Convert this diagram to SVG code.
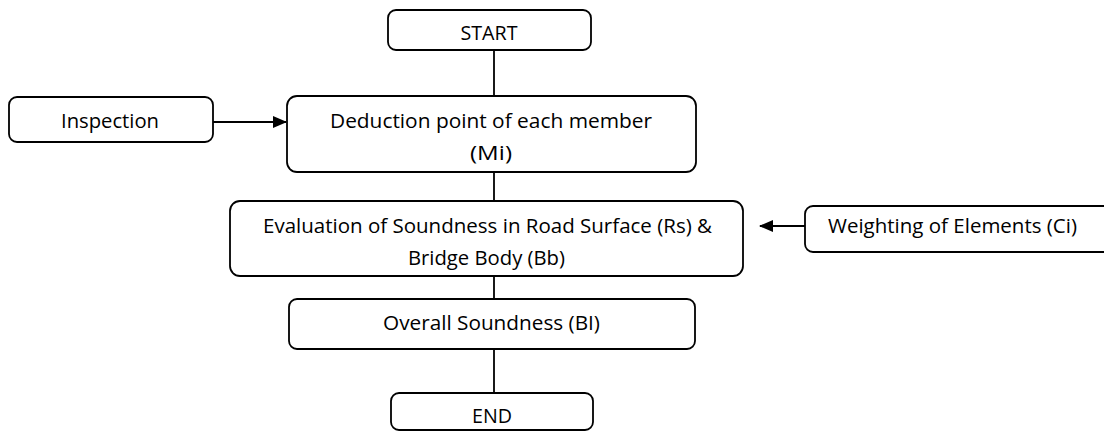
<svg xmlns="http://www.w3.org/2000/svg" width="1104" height="432" viewBox="0 0 1104 432">
  <style>
    .box { fill: #ffffff; stroke: #000000; stroke-width: 1.8; }
    .lbl { font-family: "Open Sans", "Liberation Sans", sans-serif; font-size: 20px; fill: #000000; text-anchor: middle; }
    .wire { fill: none; stroke: #000000; stroke-width: 1.8; }
  </style>
  <defs>
    <marker id="arrow" viewBox="0 0 14 12" refX="13" refY="6" markerWidth="14" markerHeight="12" markerUnits="userSpaceOnUse" orient="auto">
      <path d="M0,0 L14,6 L0,12 Z" fill="#000000"/>
    </marker>
  </defs>
  <rect width="1104" height="432" fill="#ffffff"/>

  <!-- flow connectors -->
  <g id="connectors">
    <line class="wire" x1="494" y1="50" x2="494" y2="96"/>
    <line class="wire" x1="494" y1="172" x2="494" y2="201"/>
    <line class="wire" x1="494" y1="276" x2="494" y2="299"/>
    <line class="wire" x1="494" y1="349" x2="494" y2="393"/>
    <line class="wire" x1="213" y1="122" x2="286" y2="122" marker-end="url(#arrow)"/>
    <line class="wire" x1="805" y1="226" x2="760" y2="226" marker-end="url(#arrow)"/>
  </g>

  <g id="start">
    <rect class="box" x="388" y="10" width="203" height="40" rx="8"/>
    <text class="lbl" x="489" y="40" textLength="57" lengthAdjust="spacingAndGlyphs">START</text>
  </g>

  <g id="inspection">
    <rect class="box" x="9" y="97" width="204" height="45" rx="8"/>
    <text class="lbl" x="110" y="128" textLength="98" lengthAdjust="spacingAndGlyphs">Inspection</text>
  </g>

  <g id="deduction">
    <rect class="box" x="287" y="96" width="409" height="76" rx="10"/>
    <text class="lbl" x="491" y="128" textLength="322" lengthAdjust="spacingAndGlyphs">Deduction point of each member</text>
    <text class="lbl" x="491" y="160" textLength="42" lengthAdjust="spacingAndGlyphs">(Mi)</text>
  </g>

  <g id="evaluation">
    <rect class="box" x="230" y="201" width="513" height="75" rx="10"/>
    <text class="lbl" x="487.5" y="233" textLength="449" lengthAdjust="spacingAndGlyphs">Evaluation of Soundness in Road Surface (Rs) &amp;</text>
    <text class="lbl" x="486.5" y="265" textLength="157" lengthAdjust="spacingAndGlyphs">Bridge Body (Bb)</text>
  </g>

  <g id="weighting">
    <rect class="box" x="805" y="206" width="310" height="46" rx="8"/>
    <text class="lbl" x="952.5" y="233" textLength="249" lengthAdjust="spacingAndGlyphs">Weighting of Elements (Ci)</text>
  </g>

  <g id="overall">
    <rect class="box" x="289" y="299" width="406" height="50" rx="8"/>
    <text class="lbl" x="491.5" y="330" textLength="217" lengthAdjust="spacingAndGlyphs">Overall Soundness (BI)</text>
  </g>

  <g id="end">
    <rect class="box" x="391" y="393" width="202" height="37" rx="8"/>
    <text class="lbl" x="492" y="423" textLength="40" lengthAdjust="spacingAndGlyphs">END</text>
  </g>
</svg>
